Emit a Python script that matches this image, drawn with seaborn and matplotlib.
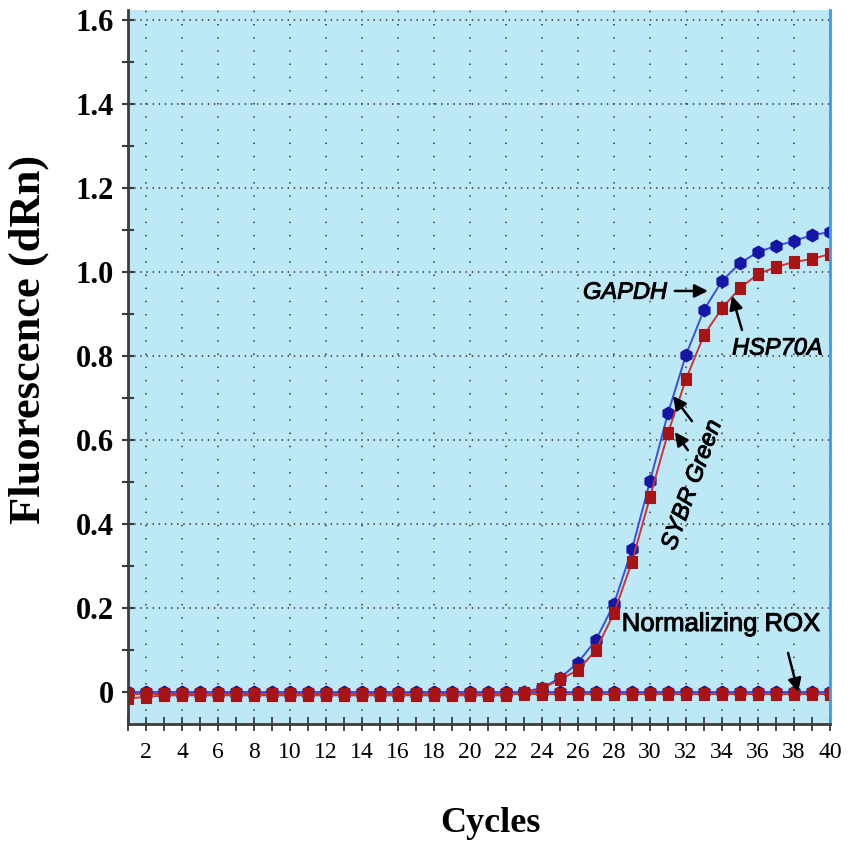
import numpy as np
import pandas as pd
import matplotlib
matplotlib.use("Agg")
import matplotlib.pyplot as plt
import matplotlib.patheffects as pe
from matplotlib.path import Path
from matplotlib.ticker import MultipleLocator, FixedLocator
import seaborn as sns

# ---- data -------------------------------------------------------------
cycles = list(range(1, 41))

gapdh = [-0.003, -0.004] + [-0.004] * 20 + [
    0.000, 0.010, 0.033, 0.070, 0.124, 0.210, 0.340, 0.502, 0.664, 0.803,
    0.910, 0.979, 1.021, 1.048, 1.062, 1.074, 1.088, 1.095]

hsp70a = [-0.015, -0.012] + [-0.008] * 20 + [
    -0.002, 0.008, 0.030, 0.052, 0.100, 0.188, 0.310, 0.464, 0.617, 0.745,
    0.850, 0.914, 0.962, 0.995, 1.012, 1.024, 1.031, 1.043]

rox_blue = [0.000] * 40
rox_red = [-0.004] * 40

x_ticks = list(range(2, 41, 2))
y_ticks = [0.0, 0.2, 0.4, 0.6, 0.8, 1.0, 1.2, 1.4, 1.6]
y_tick_labels = ["0", "0.2", "0.4", "0.6", "0.8", "1.0", "1.2", "1.4", "1.6"]

# ---- style ------------------------------------------------------------
sns.set_theme(style="ticks")
plt.rcParams["font.family"] = ["Liberation Serif", "DejaVu Serif"]
plt.rcParams["text.color"] = "black"
plt.rcParams["xtick.labelcolor"] = "black"
plt.rcParams["ytick.labelcolor"] = "black"

W, H = 854, 846
fig = plt.figure(figsize=(W / 100, H / 100), dpi=100)
ax = fig.add_axes([128 / W, 1 - 724 / H, (830 - 128) / W, (724 - 10) / H])
ax.set_facecolor("#bde9f7")

blue_line, blue_mark = "#3b4fe0", "#1616a6"
red_line, red_mark = "#cc3333", "#a81414"

# slightly tall rectangle used for the red series
tall_rect = Path([(-0.4, -0.5), (0.4, -0.5), (0.4, 0.5), (-0.4, 0.5), (-0.4, -0.5)],
                 [Path.MOVETO, Path.LINETO, Path.LINETO, Path.LINETO, Path.CLOSEPOLY])

def draw(values, line_c, mark_c, marker, ms):
    df = pd.DataFrame({"Cycle": cycles, "dRn": values})
    sns.lineplot(data=df, x="Cycle", y="dRn", ax=ax, color=line_c, lw=1.4,
                 marker=marker, markersize=ms, markerfacecolor=mark_c,
                 markeredgecolor=mark_c, markeredgewidth=0.8)

draw(gapdh, blue_line, blue_mark, "h", 9.2)
draw(rox_blue, blue_line, blue_mark, "h", 9.2)
draw(hsp70a, red_line, red_mark, tall_rect, 9.2)
draw(rox_red, red_line, red_mark, tall_rect, 9.2)

ax.set_xlim(1, 40)
ax.set_ylim(-0.0762, 1.624)

# ---- ticks & grid -----------------------------------------------------
ax.xaxis.set_major_locator(FixedLocator(x_ticks))
ax.xaxis.set_minor_locator(FixedLocator(list(range(1, 40, 2))))
ax.set_xticklabels([str(t) for t in x_ticks])
ax.yaxis.set_major_locator(FixedLocator(y_ticks))
ax.yaxis.set_minor_locator(MultipleLocator(0.1))
ax.set_yticklabels(y_tick_labels)

ax.tick_params(axis="x", which="both", direction="inout", length=10,
               width=1.3, color="#3c3c3c", labelsize=17, pad=8)
ax.tick_params(axis="y", which="both", direction="inout", length=8,
               width=1.5, color="#3c3c3c", labelsize=22, pad=6)
for lab in ax.get_yticklabels():
    lab.set_fontweight("bold")

ax.xaxis.grid(True, which="major", color="#4a4a4a", lw=1.3,
              linestyle=(0, (0.8, 6.5)))
ax.yaxis.grid(True, which="major", color="#4a4a4a", lw=1.3,
              linestyle=(0, (0.8, 2.6)))
ax.set_axisbelow(True)

for side in ("left", "bottom"):
    ax.spines[side].set_color("#3c3c3c")
    ax.spines[side].set_linewidth(2)
ax.spines["right"].set_visible(True)
ax.spines["right"].set_color("#3a9cf0")
ax.spines["right"].set_linewidth(2)
ax.spines["top"].set_visible(False)

ax.set_xlabel("")
ax.set_ylabel("")
fig.text(490 / W, 1 - 823 / H, "Cycles", fontsize=26, fontweight="bold",
         ha="center", va="center")
fig.text(29 / W, 1 - 339 / H, "Fluorescence (dRn)", fontsize=32,
         fontweight="bold", rotation=90, ha="center", va="center")

# ---- annotations ------------------------------------------------------
sans = ["Liberation Sans", "DejaVu Sans"]
heavy = [pe.withStroke(linewidth=0.7, foreground="black")]
arrow = dict(arrowstyle="-|>", color="black", lw=1.8, mutation_scale=20,
             shrinkA=0, shrinkB=0)

t = ax.text(30.94, 0.952, "GAPDH", family=sans, style="italic", fontsize=17,
            ha="right", va="center")
t.set_path_effects(heavy)
ax.annotate("", xy=(33.22, 0.955), xytext=(31.38, 0.955), arrowprops=arrow)

t = ax.text(34.56, 0.819, "HSP70A", family=sans, style="italic", fontsize=17,
            ha="left", va="center")
t.set_path_effects(heavy)
ax.annotate("", xy=(34.56, 0.943), xytext=(35.11, 0.862), arrowprops=arrow)

t = ax.text(32.33, 0.493, "SYBR Green", family=sans, style="italic",
            fontsize=17, rotation=70, ha="center", va="center",
            rotation_mode="anchor")
t.set_path_effects(heavy)
ax.annotate("", xy=(31.27, 0.705), xytext=(32.33, 0.645), arrowprops=arrow)
ax.annotate("", xy=(31.38, 0.619), xytext=(32.10, 0.576), arrowprops=arrow)

t = ax.text(28.43, 0.162, "Normalizing ROX", family=sans, fontsize=18.5,
            ha="left", va="center")
t.set_path_effects(heavy)
ax.annotate("", xy=(38.23, 0.0), xytext=(37.67, 0.093), arrowprops=arrow)

fig.savefig("out.png", dpi=100)
